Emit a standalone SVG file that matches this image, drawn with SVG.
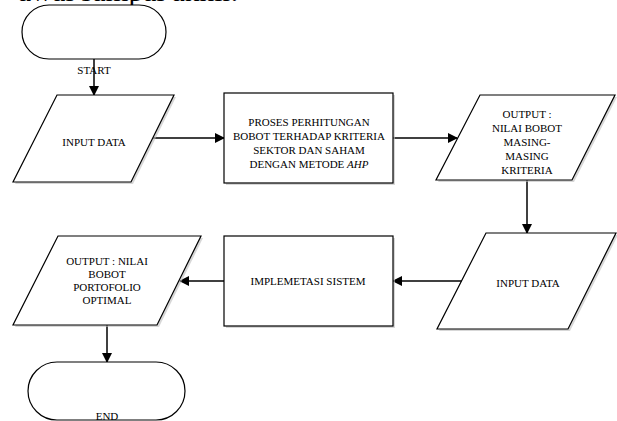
<svg xmlns="http://www.w3.org/2000/svg" width="617" height="421" viewBox="0 0 617 421">
<defs>
<style>
.shape{fill:#fff;stroke:#000;stroke-width:1.2}
.shadow{fill:#bdbdbd;opacity:0.6}
.lbl{font-family:"Liberation Serif","Times New Roman",serif;font-size:11px;fill:#000;text-anchor:middle}
.conn{stroke:#000;stroke-width:1.5;fill:none;marker-end:url(#ah)}
</style>
<marker id="ah" markerWidth="10" markerHeight="10" refX="9" refY="5" orient="auto" markerUnits="userSpaceOnUse">
<path d="M0,0 L10,5 L0,10 Z" fill="#000"/>
</marker>
</defs>
<rect width="617" height="421" fill="#fff"/>
<text x="18" y="0.5" font-family="Liberation Serif, serif" font-size="28" textLength="220" lengthAdjust="spacingAndGlyphs">awal sampai akhir.</text>

<g id="connectors">
<line class="conn" x1="94" y1="59" x2="94" y2="95"/>
<line class="conn" x1="152" y1="138" x2="224" y2="138"/>
<line class="conn" x1="393" y1="138" x2="457" y2="138"/>
<line class="conn" x1="527" y1="180" x2="527" y2="233"/>
<line class="conn" x1="462" y1="281" x2="393" y2="281"/>
<line class="conn" x1="224" y1="281" x2="180" y2="281"/>
<line class="conn" x1="107" y1="325" x2="107" y2="362"/>
</g>

<g id="start">
<rect class="shape" x="22" y="5" width="144" height="54" rx="27"/>
<text class="lbl" x="94" y="74">START</text>
</g>

<g id="input1">
<polygon class="shadow" points="59,97 176,97 133,184 15,184"/>
<polygon class="shape" points="57,95 174,95 131,182 13,182"/>
<text class="lbl" x="94" y="146">INPUT DATA</text>
</g>

<g id="process">
<rect class="shadow" x="226" y="95" width="169" height="90"/>
<rect class="shape" x="224" y="93" width="169" height="90"/>
<text class="lbl" x="309" y="126">PROSES PERHITUNGAN</text>
<text class="lbl" x="309" y="140">BOBOT TERHADAP KRITERIA</text>
<text class="lbl" x="309" y="154">SEKTOR DAN SAHAM</text>
<text class="lbl" x="309" y="168">DENGAN METODE <tspan font-style="italic">AHP</tspan></text>
</g>

<g id="output1">
<polygon class="shadow" points="482,97 617,97 574,182 438,182"/>
<polygon class="shape" points="480,95 615,95 572,180 436,180"/>
<text class="lbl" x="527" y="118">OUTPUT :</text>
<text class="lbl" x="527" y="132">NILAI BOBOT</text>
<text class="lbl" x="527" y="146">MASING-</text>
<text class="lbl" x="527" y="160">MASING</text>
<text class="lbl" x="527" y="174">KRITERIA</text>
</g>

<g id="input2">
<polygon class="shadow" points="488,235 618,235 570,331 439,331"/>
<polygon class="shape" points="486,233 616,233 568,329 437,329"/>
<text class="lbl" x="528" y="287">INPUT DATA</text>
</g>

<g id="implementasi">
<rect class="shadow" x="226" y="238" width="169" height="90"/>
<rect class="shape" x="224" y="236" width="169" height="90"/>
<text class="lbl" x="308" y="285">IMPLEMETASI SISTEM</text>
</g>

<g id="output2">
<polygon class="shadow" points="60,238 203,238 159,327 15,327"/>
<polygon class="shape" points="58,236 201,236 157,325 13,325"/>
<text class="lbl" x="107" y="265">OUTPUT : NILAI</text>
<text class="lbl" x="107" y="278">BOBOT</text>
<text class="lbl" x="107" y="291">PORTOFOLIO</text>
<text class="lbl" x="107" y="304">OPTIMAL</text>
</g>

<g id="end">
<rect class="shape" x="28" y="362" width="157" height="58" rx="29"/>
<text class="lbl" x="107" y="420">END</text>
</g>
</svg>
